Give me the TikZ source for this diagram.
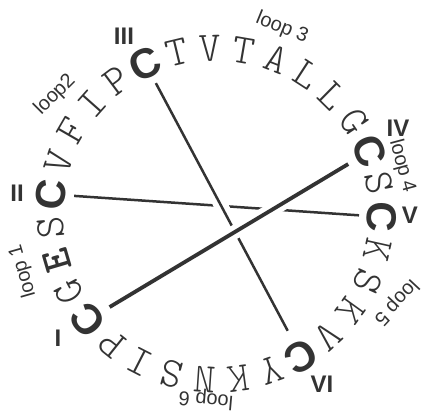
\documentclass[tikz,border=0pt]{standalone}
\usepackage{fontspec}
\setsansfont{Liberation Sans}
\newfontfamily\lmlight{Latin Modern Mono Light}
\definecolor{ink}{HTML}{333333}
\tikzset{
  res/.style={font=\lmlight\fontsize{42}{42}\selectfont, text=ink, inner sep=0pt},
  cys/.style={font=\sffamily\bfseries\fontsize{42}{42}\selectfont, text=ink, inner sep=0pt},
  bolde/.style={font=\lmlight\bfseries\fontsize{42}{42}\selectfont, text=ink, inner sep=0pt},
  num/.style={font=\sffamily\bfseries\fontsize{24}{24}\selectfont, text=ink, inner sep=0pt},
  looplab/.style={font=\sffamily\fontsize{20}{20}\selectfont, text=ink, inner sep=0pt},
  bond/.style={draw=ink, line width=2.5pt},
  thickbond/.style={draw=ink, line width=3.8pt},
  halo/.style={preaction={draw=white, line width=14pt}}
}
\begin{document}
\begin{tikzpicture}[x=1pt,y=1pt]
\useasboundingbox (-216,-197) rectangle (205,214);
\def\Rad{166}
\foreach \ch/\sty/\nm [count=\i from 0] in {
  C/cys/cV, K/res/r1, S/res/r2, K/res/r3, V/res/r4, C/cys/cVI,
  Y/res/r6, K/res/r7, N/res/r8, S/res/r9, I/res/r10, P/res/r11,
  C/cys/cI, G/res/r13, E/bolde/r14, S/res/r15, C/cys/cII,
  V/res/r17, F/res/r18, I/res/r19, P/res/r20, C/cys/cIII,
  T/res/r22, V/res/r23, T/res/r24, A/res/r25, L/res/r26, L/res/r27, G/res/r28,
  C/cys/cIV, S/res/r30}
{
  \pgfmathsetmacro{\ang}{-1-\i*360/31}
  \node[\sty, rotate=\ang-90] (\nm) at (\ang:\Rad) {\ch};
}
% disulfide bonds
\draw[bond, shorten <=23pt, shorten >=23pt] (cII.center) -- (cV.center);
\draw[bond, halo, shorten <=22pt, shorten >=29pt] (cIII.center) -- (cVI.center);
\draw[thickbond, halo, shorten <=25pt, shorten >=25pt] (cI.center) -- (cIV.center);
% roman numerals
\node[num] (nI) at (-158,-124) {I};
\node[num] (nII) at (-199,21) {II};
\node[num] (nIII) at (-92,178) {III};
\node[num] (nIV) at (182,86) {IV};
\node[num] (nV) at (194,-1) {V};
\node[num] (nVI) at (106,-170) {VI};
% loop labels
\node[looplab, rotate=106] (l1) at (-193,-57) {loop 1};
\node[looplab, rotate=45] (l2) at (-161,119) {loop2};
\node[looplab, rotate=-22] (l3) at (66,186) {loop 3};
\node[looplab, rotate=-75] (l4) at (186,48) {loop 4};
\node[looplab, rotate=-133] (l5) at (180,-88) {loop 5};
\node[looplab, rotate=175] (l6) at (-10,-185) {loop 6};
\end{tikzpicture}
\end{document}
